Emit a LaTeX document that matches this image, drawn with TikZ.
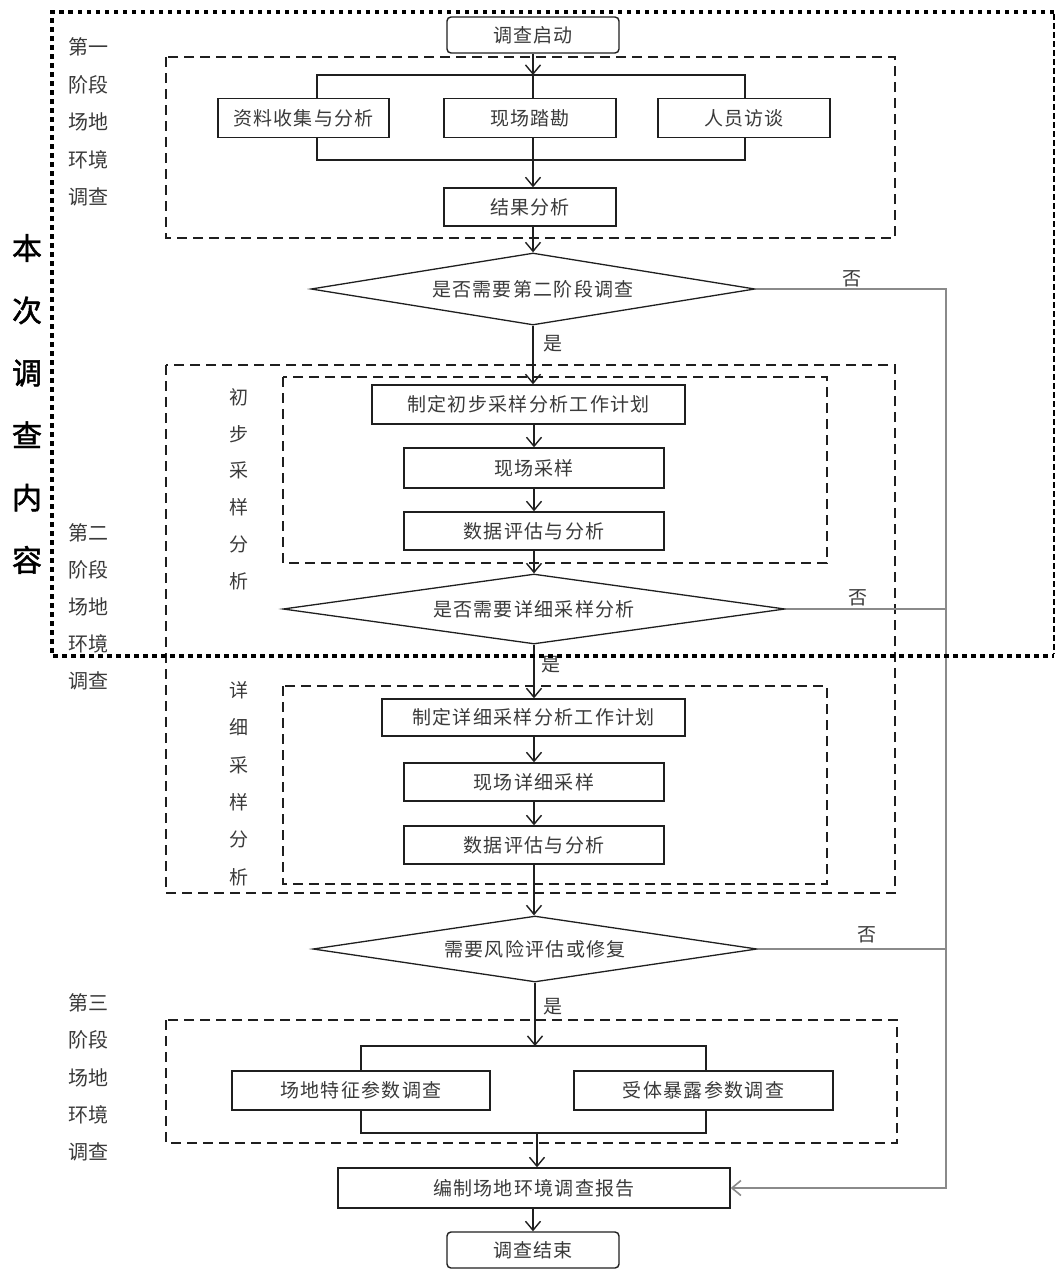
\documentclass[tikz,border=0pt]{standalone}
\usepackage{fontspec}
\usetikzlibrary{shapes.geometric,arrows.meta}
\newfontfamily\cjk[LetterSpace=7]{Noto Sans CJK SC}
\newfontfamily\cjkside{Noto Sans CJK SC}
\newfontfamily\cjkb[FakeBold=1.5]{Noto Sans CJK SC}
\definecolor{txt}{HTML}{3A3A3A}
\definecolor{nogray}{HTML}{8A8A8A}
\begin{document}
\begin{tikzpicture}[x=1pt,y=-1pt,
  box/.style={draw=black!88, line width=1.4pt, minimum height=39pt, inner sep=0pt,
    font=\cjk\fontsize{19}{21}\selectfont, text=txt},
  rbox/.style={box, rounded corners=4pt, minimum width=172pt, minimum height=36pt},
  dia/.style={diamond, draw=black!88, line width=1.3pt, inner sep=0pt, aspect=6,
    font=\cjk\fontsize{19}{21}\selectfont, text=txt},
  dashbox/.style={draw=black!88, line width=1.5pt, dash pattern=on 10pt off 6pt},
  conn/.style={draw=black!88, line width=1.4pt},
  arr/.style={conn, -{Straight Barb[length=9pt,width=15pt,line width=1.4pt]}},
  noline/.style={draw=nogray, line width=1.8pt},
  lbl/.style={inner sep=0pt, font=\cjkside\fontsize{19}{21}\selectfont, text=txt},
  side/.style={inner sep=0pt, align=center, text=txt},
]
\useasboundingbox (0,0) rectangle (1057,1269);
\fill[white] (0,0) rectangle (1057,1269);

% ---------- group frames ----------
\draw[dashbox] (166,57) rectangle (895,238);
\draw[dashbox] (166,365) rectangle (895,893);
\draw[dashbox] (283,377) rectangle (827,563);
\draw[dashbox] (283,686) rectangle (827,884);
\draw[dashbox] (166,1020) rectangle (897,1143);

% ---------- side labels ----------
\node[side, font=\cjkside\fontsize{20}{37.5}\selectfont] (s1) at (88,122) {第一\\阶段\\场地\\环境\\调查};
\node[side, font=\cjkside\fontsize{20}{37}\selectfont] (s2) at (88,607) {第二\\阶段\\场地\\环境\\调查};
\node[side, font=\cjkside\fontsize{20}{37.3}\selectfont] (s3) at (88,1077.5) {第三\\阶段\\场地\\环境\\调查};
\node[side, font=\cjkside\fontsize{19}{36.8}\selectfont] (s4) at (239,489) {初\\步\\采\\样\\分\\析};
\node[side, font=\cjkside\fontsize{19}{37.4}\selectfont] (s5) at (239,783.5) {详\\细\\采\\样\\分\\析};
\node[side, text=black, font=\cjkb\fontsize{30}{62.4}\selectfont] (s6) at (27,404) {本\\次\\调\\查\\内\\容};

% ---------- nodes ----------
\node[rbox] (start) at (533,35) {调查启动};
\node[box, minimum width=171pt] (b1) at (303.5,118) {资料收集与分析};
\node[box, minimum width=172pt] (b2) at (530,118) {现场踏勘};
\node[box, minimum width=172pt] (b3) at (744,118) {人员访谈};
\node[box, minimum width=172pt, minimum height=38pt] (res) at (530,207) {结果分析};
\node[dia, minimum width=444pt, minimum height=72pt] (d1) at (533,289) {是否需要第二阶段调查};
\node[box, minimum width=313pt] (plan1) at (528.5,404.5) {制定初步采样分析工作计划};
\node[box, minimum width=260pt, minimum height=40pt] (samp1) at (534,468) {现场采样};
\node[box, minimum width=260pt, minimum height=38pt] (eval1) at (534,531) {数据评估与分析};
\node[dia, minimum width=502pt, minimum height=70pt] (d2) at (534,609) {是否需要详细采样分析};
\node[box, minimum width=303pt, minimum height=37pt] (plan2) at (533.5,717.5) {制定详细采样分析工作计划};
\node[box, minimum width=260pt, minimum height=38pt] (samp2) at (534,782) {现场详细采样};
\node[box, minimum width=260pt, minimum height=38pt] (eval2) at (534,845) {数据评估与分析};
\node[dia, minimum width=444pt, minimum height=66pt] (d3) at (535,949) {需要风险评估或修复};
\node[box, minimum width=258pt] (f1) at (361,1090.5) {场地特征参数调查};
\node[box, minimum width=259pt] (f2) at (703.5,1090.5) {受体暴露参数调查};
\node[box, minimum width=392pt, minimum height=40pt] (report) at (534,1188) {编制场地环境调查报告};
\node[rbox] (end) at (533,1250) {调查结束};

% ---------- helper coordinates ----------
\coordinate (t1) at (533,75);
\coordinate (t1l) at (317,75);
\coordinate (t1r) at (745,75);
\coordinate (u1l) at (317,160);
\coordinate (u1r) at (745,160);
\coordinate (t3) at (535,1046);
\coordinate (t3l) at (361,1046);
\coordinate (t3r) at (706,1046);
\coordinate (u3l) at (361,1133);
\coordinate (u3r) at (706,1133);
\coordinate (u3) at (537,1133);
\coordinate (rr) at (946,289);

% ---------- phase 1 ----------
\draw[arr] (start.south -| t1) -- (t1);
\draw[conn] (t1) -- (t1 |- b2.north);
\draw[conn] (t1l |- b1.north) -- (t1l) -- (t1r) -- (t1r |- b3.north);
\draw[conn] (u1l |- b1.south) -- (u1l) -- (u1r) -- (u1r |- b3.south);
\draw[arr] (t1 |- b2.south) -- (t1 |- res.north);
\draw[arr] (t1 |- res.south) -- (d1.north);

% ---------- phase 2 ----------
\draw[arr] (d1.south) -- (d1.south |- plan1.north);
\node[lbl] (y1) at (553,344) {是};
\draw[arr] (samp1.north |- plan1.south) -- (samp1.north);
\draw[arr] (samp1.south) -- (eval1.north);
\draw[arr] (eval1.south) -- (d2.north);
\draw[arr] (d2.south) -- (d2.south |- plan2.north);
\node[lbl] (y2) at (551,665) {是};
\draw[arr] (samp2.north |- plan2.south) -- (samp2.north);
\draw[arr] (samp2.south) -- (eval2.north);
\draw[arr] (eval2.south) -- (eval2.south |- d3.north);

% ---------- phase 3 ----------
\draw[arr] (d3.south) -- (t3);
\node[lbl] (y3) at (553,1007) {是};
\draw[conn] (f1.north) -- (t3l) -- (t3r) -- (t3r |- f2.north);
\draw[conn] (f1.south) -- (u3l) -- (u3r) -- (u3r |- f2.south);
\draw[arr] (u3) -- (u3 |- report.north);
\draw[arr] (report.south -| end) -- (end.north);

% ---------- "no" branches ----------
\draw[noline, -{Straight Barb[length=9pt,width=15pt,line width=1.6pt]}] (d1.east) -- (rr) |- (report.east);
\draw[noline] (d2.east) -- (d2.east -| rr);
\draw[noline] (d3.east) -- (d3.east -| rr);
\node[lbl] (n1) at (852,279) {否};
\node[lbl] (n2) at (858,598) {否};
\node[lbl] (n3) at (867,935) {否};

% ---------- scope frame of this survey ----------
\draw[line width=4.5pt, dash pattern=on 4.5pt off 4.5pt] (1054,12) -- (52,12) -- (52,656) -- (1054,656);
\draw[line width=1.3pt, dash pattern=on 6pt off 3pt] (1054,14) -- (1054,654);
\end{tikzpicture}
\end{document}
